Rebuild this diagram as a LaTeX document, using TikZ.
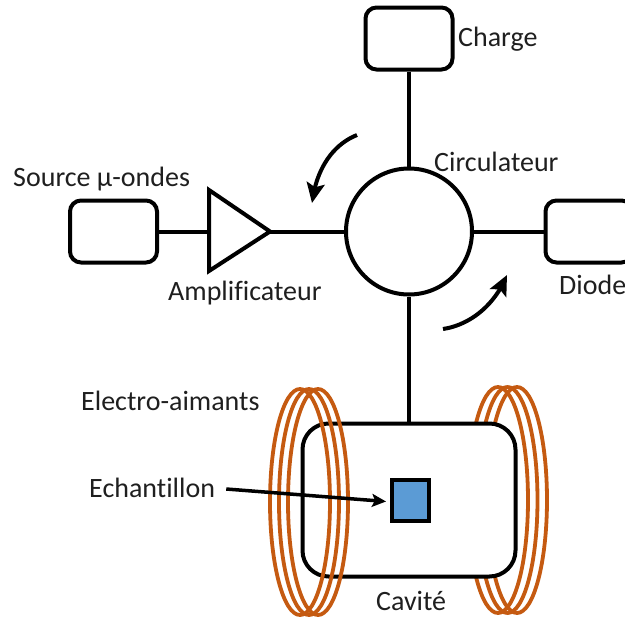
\documentclass[tikz,border=0pt]{standalone}
\usepackage{fontspec}
\setmainfont[Ligatures=NoCommon]{Carlito}
\usetikzlibrary{arrows.meta,bending}
\definecolor{coil}{HTML}{C55A11}
\definecolor{sampleblue}{HTML}{5B9BD5}
\tikzset{
  wire/.style={line width=4pt,draw=black},
  boxnode/.style={draw=black,line width=4pt,rounded corners=11pt,minimum width=87pt,minimum height=62pt,inner sep=0pt,fill=white},
  coilring/.style={draw=coil,line width=3.8pt,x radius=30pt,y radius=113pt},
  flow/.style={line width=4pt,-{Stealth[length=20pt,width=18pt,inset=4pt,flex=1]}},
  lab/.style={font=\fontsize{28pt}{32pt}\selectfont,inner sep=0pt,text=black!88},
}
\begin{document}
\begin{tikzpicture}[x=1pt,y=-1pt]
\useasboundingbox (0,0) rectangle (625,619);
\clip (0,0) rectangle (625,619);
% right coil behind the cavity
\foreach \cx in {498,507.5,517}{\draw[coilring] (\cx,500) ellipse [];}
% cavity and parts
\node[boxnode,minimum width=213pt,minimum height=153pt,rounded corners=26pt] (cavity) at (409,500) {};
\foreach \cx in {300,309,318}{\draw[coilring] (\cx,502) ellipse [];}
\node[draw=black,line width=4pt,fill=sampleblue,minimum width=37pt,minimum height=41pt,inner sep=0pt] (sample) at (410,500) {};
\node[boxnode] (charge) at (409,38.5) {};
\node[boxnode] (source) at (113.5,231.5) {};
\node[boxnode] (diode) at (589,231.5) {};
\node[draw=black,line width=4pt,circle,minimum size=126pt,inner sep=0pt,fill=white] (circ) at (409,231.5) {};
% amplifier
\coordinate (ampin) at (209,231.5);
\coordinate (ampout) at (270,231.5);
\draw[wire,line join=miter] (209,190) -- (ampout) -- (209,271) -- cycle;
% connectors
\draw[wire] (charge.south) -- (circ.north);
\draw[wire] (source.east) -- (ampin);
\draw[wire] (ampout) -- (circ.west);
\draw[wire] (circ.east) -- (diode.west);
\draw[wire] (circ.south) -- (cavity.north);
% flow arrows
\coordinate (f1a) at (357,135);
\coordinate (f1b) at (312,203);
\coordinate (f2a) at (443,329);
\coordinate (f2b) at (507,275);
\draw[flow] (f1a) .. controls (332,145) and (316,170) .. (f1b);
\draw[flow] (f2a) .. controls (470,325) and (495,305) .. (f2b);
% labels
\node[lab,anchor=west] (lcharge) at (458,39.5) {Charge};
\node[lab,anchor=west] (lsource) at (13,179.5) {Source µ-ondes};
\node[lab,anchor=west] (lcirc) at (434,161.5) {Circulateur};
\node[lab,anchor=west] (lamp) at (168,293.5) {Amplificateur};
\node[lab,anchor=west] (ldiode) at (559,285) {Diode};
\node[lab,anchor=west] (lelec) at (81,401) {Electro-aimants};
\node[lab,anchor=west] (lech) at (89,488) {Echantillon};
\node[lab,anchor=west] (lcav) at (376,601) {Cavité};
% sample arrow
\coordinate (sampletip) at (386,501.5);
\draw[line width=3.5pt,-{Stealth[length=14pt,width=13pt,inset=3pt]}] (lech.east)++(11,1) -- (sampletip);
\end{tikzpicture}
\end{document}
